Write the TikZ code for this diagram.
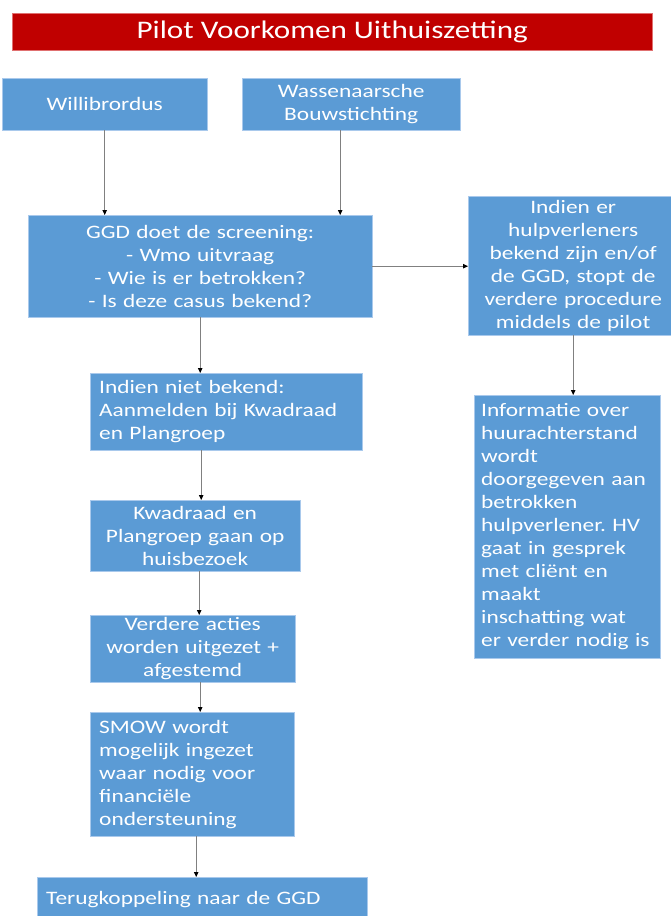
\documentclass[tikz,border=0pt]{standalone}
\usepackage{fontspec}
\setmainfont{Carlito}[FakeStretch=1.23]
\usepackage{xcolor}
\usetikzlibrary{arrows.meta}
\frenchspacing

\definecolor{boxblue}{HTML}{5B9BD5}
\definecolor{boxedge}{HTML}{A9C9EC}
\definecolor{titlered}{HTML}{C00000}
\definecolor{titleedge}{HTML}{E07070}
\definecolor{linegray}{HTML}{808080}

\begin{document}
\begin{tikzpicture}[x=1pt, y=-1pt,
  >={Triangle[length=5pt,width=4.5pt,color=black]},
  box/.style={rectangle, draw=boxedge, fill=boxblue, text=white, anchor=north west,
    inner xsep=9pt, inner ysep=0pt, font=\fontsize{19}{23}\selectfont},
  link/.style={->, draw=linegray, line width=0.8pt}]
\useasboundingbox (0,0) rectangle (670,916);

\node (title) [rectangle, draw=titleedge, fill=titlered, text=white, anchor=north west, minimum width=640pt, minimum height=37pt, inner sep=0pt, font=\fontsize{25.3}{30}\selectfont] at (12,13) {Pilot Voorkomen Uithuiszetting};

\node (willi) [box, text width=187pt, minimum height=52pt, align=center] at (2,78) {Willibrordus};
\node (wbs) [box, text width=200pt, minimum height=52pt, align=center] at (242,78) {Wassenaarsche\\Bouwstichting};
\node (ggd) [box, text width=326pt, minimum height=102pt, align=center] at (28,215) {GGD doet de screening:\\- Wmo uitvraag\\- Wie is er betrokken?\\- Is deze casus bekend?};
\node (hulp) [box, text width=192pt, minimum height=139pt, align=center] at (468,196) {Indien er\\hulpverleners\\bekend zijn en/of\\de GGD, stopt de\\verdere procedure\\middels de pilot};
\node (niet) [box, text width=254pt, minimum height=77pt, align=left] at (90,373) {Indien niet bekend:\\Aanmelden bij Kwadraad\\en Plangroep};
\node (info) [box, inner xsep=7pt, text width=172pt, minimum height=263pt, align=left] at (474,395) {Informatie over\\huurachterstand\\wordt\\doorgegeven aan\\betrokken\\hulpverlener. HV\\gaat in gesprek\\met cliënt en\\maakt\\inschatting wat\\er verder nodig is};
\node (kwad) [box, text width=192pt, minimum height=71pt, align=center] at (90,500) {Kwadraad en\\Plangroep gaan op\\huisbezoek};
\node (verd) [box, text width=187pt, minimum height=67pt, align=center] at (90,615) {Verdere acties\\worden uitgezet +\\afgestemd};
\node (smow) [box, text width=186pt, minimum height=124pt, align=left] at (90,712) {SMOW wordt\\mogelijk ingezet\\waar nodig voor\\financiële\\ondersteuning};
\node (terug) [box, text width=312pt, minimum height=45pt, align=left] at (37,877) {Terugkoppeling naar de GGD};

\draw[link] (willi) -- (willi |- ggd.north);
\draw[link] ([xshift=-11pt]wbs.south) -- ([xshift=-11pt]wbs.south |- ggd.north);
\draw[link] (ggd.east) -- (ggd.east -| hulp.west);
\draw[link] (ggd.south) -- (ggd.south |- niet.north);
\draw[link] (hulp.south) -- (hulp.south |- info.north);
\draw[link] ([xshift=-25pt]niet.south) -- ([xshift=-25pt]niet.south |- kwad.north);
\draw[link] ([xshift=4pt]kwad.south) -- ([xshift=4pt]kwad.south |- verd.north);
\draw[link] ([xshift=7.5pt]verd.south) -- ([xshift=7.5pt]verd.south |- smow.north);
\draw[link] ([xshift=4pt]smow.south) -- ([xshift=4pt]smow.south |- terug.north);

\end{tikzpicture}
\end{document}
